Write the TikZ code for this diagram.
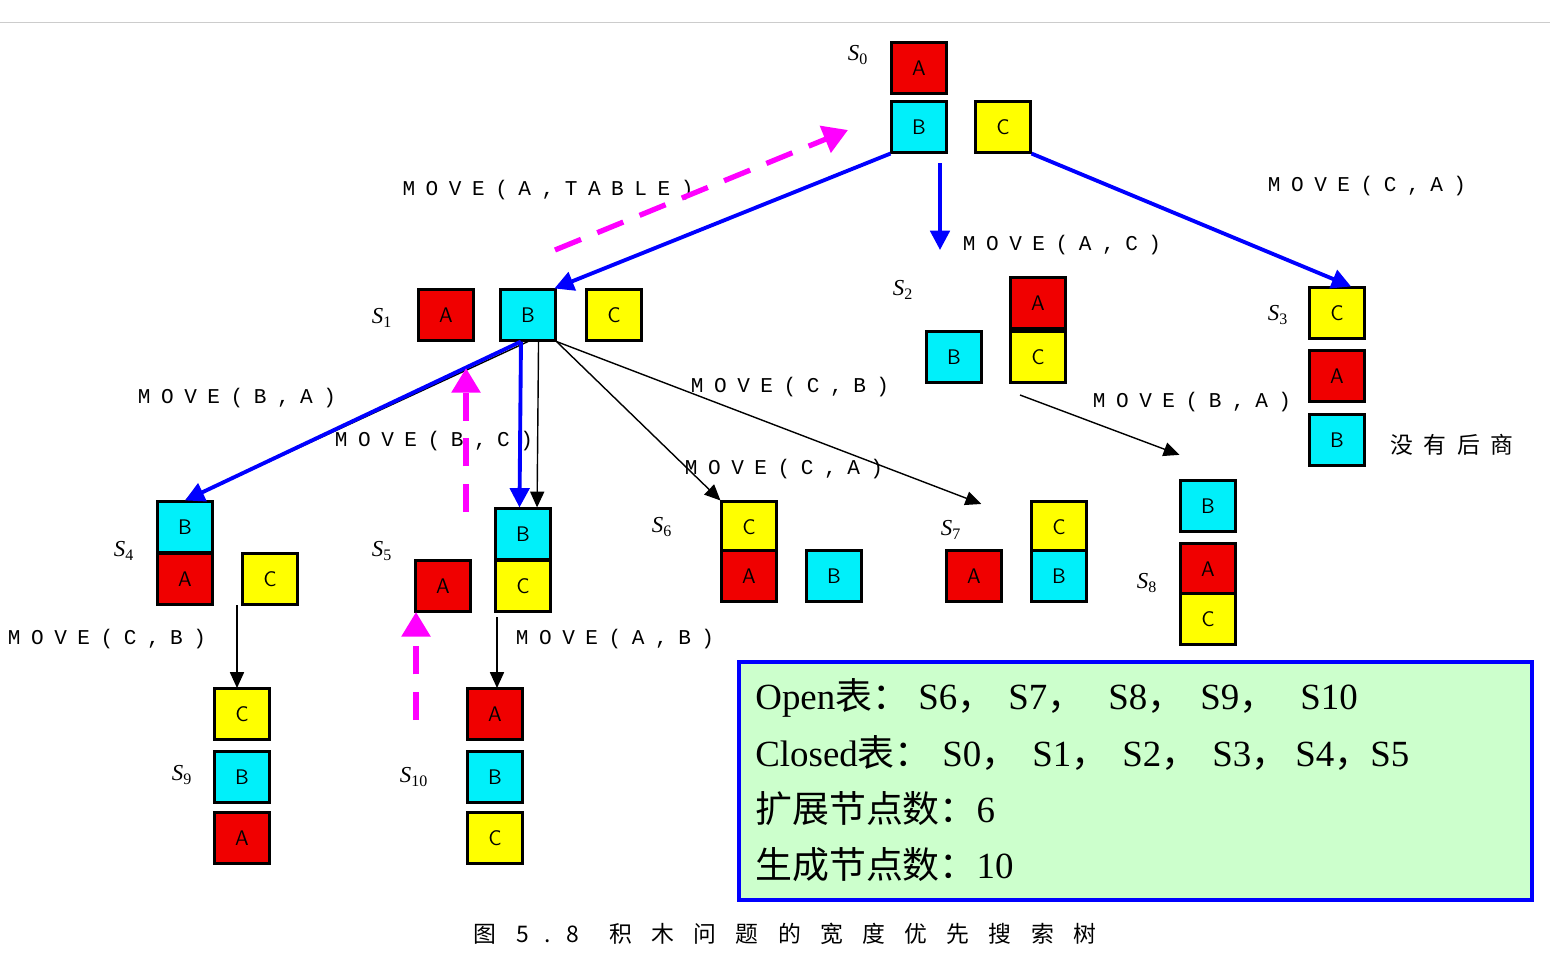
\documentclass[tikz,border=0pt]{standalone}
\usepackage{fontspec}
\setmainfont{Liberation Serif}
\newfontfamily\cjk{Noto Sans CJK SC}
\newfontfamily\mv[LetterSpace=50]{Liberation Mono}
\usetikzlibrary{arrows.meta}
\definecolor{bred}{RGB}{240,0,0}
\definecolor{bcyan}{RGB}{0,240,250}
\definecolor{byel}{RGB}{255,255,0}
\definecolor{boxg}{RGB}{204,255,204}
\definecolor{mgt}{RGB}{255,0,255}
\tikzset{
  blk/.style={draw=black, line width=1.2pt, minimum width=1.1cm, minimum height=1.02cm, inner sep=0pt, font=\fontsize{12}{12}\selectfont\sffamily},
  ra/.style={blk, fill=bred}, cb/.style={blk, fill=bcyan}, yc/.style={blk, fill=byel},
  lbl/.style={font=\fontsize{13}{13}\selectfont\itshape},
  mv/.style={font=\fontsize{12}{12}\selectfont\mv, inner sep=0pt},
  tx/.style={anchor=base west, font=\fontsize{21}{21}\selectfont, inner sep=0pt},
  bl/.style={draw=blue, line width=2.2pt, -{Triangle[length=11pt,width=11pt]}},
  bk/.style={draw=black, line width=0.8pt, -{Triangle[length=9pt,width=8pt]}},
  mg/.style={draw=mgt, line width=3pt, dash pattern=on 16pt off 10pt, -{Triangle[length=14pt,width=16pt]}}
}
\begin{document}
\begin{tikzpicture}[x=0.02cm,y=-0.02cm]
\useasboundingbox (0,0) rectangle (1550,958);
\draw[gray!40] (0,22) -- (1550,22);
% states
\node[ra] (s0a) at (919,68) {A};
\node[cb] (s0b) at (919,127) {B};
\node[yc] (s0c) at (1003,127) {C};
\node[ra] (s1a) at (446,315) {A};
\node[cb] (s1b) at (528,315) {B};
\node[yc] (s1c) at (614,315) {C};
\node[ra] (s2a) at (1038,303) {A};
\node[yc] (s2c) at (1038,357) {C};
\node[cb] (s2b) at (954,357) {B};
\node[yc] (s3c) at (1337,313) {C};
\node[ra] (s3a) at (1337,376) {A};
\node[cb] (s3b) at (1337,440) {B};
\node[cb] (s4b) at (185,527) {B};
\node[ra] (s4a) at (185,579) {A};
\node[yc] (s4c) at (270,579) {C};
\node[ra] (s5a) at (443,586) {A};
\node[cb] (s5b) at (523,534) {B};
\node[yc] (s5c) at (523,586) {C};
\node[yc] (s6c) at (749,527) {C};
\node[ra] (s6a) at (749,576) {A};
\node[cb] (s6b) at (834,576) {B};
\node[ra] (s7a) at (974,576) {A};
\node[yc] (s7c) at (1059,527) {C};
\node[cb] (s7b) at (1059,576) {B};
\node[cb] (s8b) at (1208,506) {B};
\node[ra] (s8a) at (1208,569) {A};
\node[yc] (s8c) at (1208,619) {C};
\node[yc] (s9c) at (242,714) {C};
\node[cb] (s9b) at (242,777) {B};
\node[ra] (s9a) at (242,838) {A};
\node[ra] (s10a) at (495,714) {A};
\node[cb] (s10b) at (495,777) {B};
\node[yc] (s10c) at (495,838) {C};
% state names
\node[lbl] (n0) at (858,55) {S$_{\mathrm{0}}$};
\node[lbl] (n1) at (382,318) {S$_{\mathrm{1}}$};
\node[lbl] (n2) at (903,290) {S$_{\mathrm{2}}$};
\node[lbl] (n3) at (1278,315) {S$_{\mathrm{3}}$};
\node[lbl] (n4) at (124,551) {S$_{\mathrm{4}}$};
\node[lbl] (n5) at (382,551) {S$_{\mathrm{5}}$};
\node[lbl] (n6) at (662,527) {S$_{\mathrm{6}}$};
\node[lbl] (n7) at (951,530) {S$_{\mathrm{7}}$};
\node[lbl] (n8) at (1147,583) {S$_{\mathrm{8}}$};
\node[lbl] (n9) at (182,775) {S$_{\mathrm{9}}$};
\node[lbl] (n10) at (414,777) {S$_{\mathrm{10}}$};
% moves
\node[mv] (m1) at (548,190) {MOVE(A,TABLE)};
\node[mv] (m2) at (1062,245) {MOVE(A,C)};
\node[mv] (m3) at (1367,186) {MOVE(C,A)};
\node[mv] (m4) at (237,398) {MOVE(B,A)};
\node[mv] (m5) at (434,441) {MOVE(B,C)};
\node[mv] (m6) at (790,387) {MOVE(C,B)};
\node[mv] (m7) at (784,469) {MOVE(C,A)};
\node[mv] (m8) at (1192,402) {MOVE(B,A)};
\node[mv] (m9) at (107,639) {MOVE(C,B)};
\node[mv] (m10) at (615,639) {MOVE(A,B)};
\node[font=\cjk\fontsize{13}{13}\selectfont] (nosucc) at (1452,445) {没\hspace{6pt}有\hspace{6pt}后\hspace{6pt}商};
% connectors
\coordinate (c2) at (940,250);
\coordinate (c2s) at (940,163);
\coordinate (c8) at (1020,395);
\coordinate (c9s) at (237,605); \coordinate (c9e) at (237,688);
\coordinate (c10s) at (497,617); \coordinate (c10e) at (497,688);
\draw[bk] (s1b.south) -- (s4b.north);
\draw[bk] ([xshift=6pt]s1b.south) -- ([xshift=8pt]s5b.north);
\draw[bk] (s1b.south east) -- (s6c.north west);
\draw[bk] (s1b.south east) -- ([xshift=-28pt,yshift=-2pt]s7c.north west);
\draw[bk] (c8) -- ([yshift=14pt]s8b.north west);
\draw[bk] (c9s) -- (c9e);
\draw[bk] (c10s) -- (c10e);
\draw[bl] (s0b.south west) -- ([xshift=15pt]s1b.north);
\draw[bl] (c2s) -- (c2);
\draw[bl] (s0c.south east) -- ([xshift=8pt]s3c.north);
\draw[bl] ([xshift=-4pt]s1b.south) -- (s4b.north);
\draw[bl] ([xshift=-4pt]s1b.south) -- ([xshift=-2pt]s5b.north);
\coordinate (g1) at (555,250); \coordinate (g1e) at (848,130);
\coordinate (g2) at (466,512); \coordinate (g2e) at (466,368);
\coordinate (g3) at (416,720); \coordinate (g3e) at (416,612);
\draw[mg] (g1) -- (g1e);
\draw[mg] (g2) -- (g2e);
\draw[mg] (g3) -- (g3e);
% table box
\node[draw=blue, line width=2.5pt, fill=boxg, minimum width=15.86cm, minimum height=4.76cm, anchor=north west, inner sep=0pt] (tbl) at (737,660) {};
\node[tx] (o0) at (755,709) {Open{\cjk 表：}};
\node[tx] (o1) at (918,709) {S6{\cjk ，}};
\node[tx] (o2) at (1008,709) {S7{\cjk ，}};
\node[tx] (o3) at (1108,709) {S8{\cjk ，}};
\node[tx] (o4) at (1200,709) {S9{\cjk ，}};
\node[tx] (o5) at (1300,709) {S10};
\node[tx] (k0) at (755,766) {Closed{\cjk 表：}};
\node[tx] (k1) at (942,766) {S0{\cjk ，}};
\node[tx] (k2) at (1032,766) {S1{\cjk ，}};
\node[tx] (k3) at (1122,766) {S2{\cjk ，}};
\node[tx] (k4) at (1212,766) {S3{\cjk ，}};
\node[tx] (k5) at (1295,766) {S4{\cjk ，}};
\node[tx] (k6) at (1370,766) {S5};
\node[tx] (t3) at (755,822) {{\cjk 扩展节点数：}6};
\node[tx] (t4) at (755,878) {{\cjk 生成节点数：}10};
\node[font=\cjk\fontsize{13}{13}\selectfont] (cap) at (785,934) {图\hspace{11pt}5\hspace{9pt}.\hspace{9pt}8\hspace{17pt}积\hspace{11pt}木\hspace{11pt}问\hspace{11pt}题\hspace{11pt}的\hspace{11pt}宽\hspace{11pt}度\hspace{11pt}优\hspace{11pt}先\hspace{11pt}搜\hspace{11pt}索\hspace{11pt}树};
\end{tikzpicture}
\end{document}
